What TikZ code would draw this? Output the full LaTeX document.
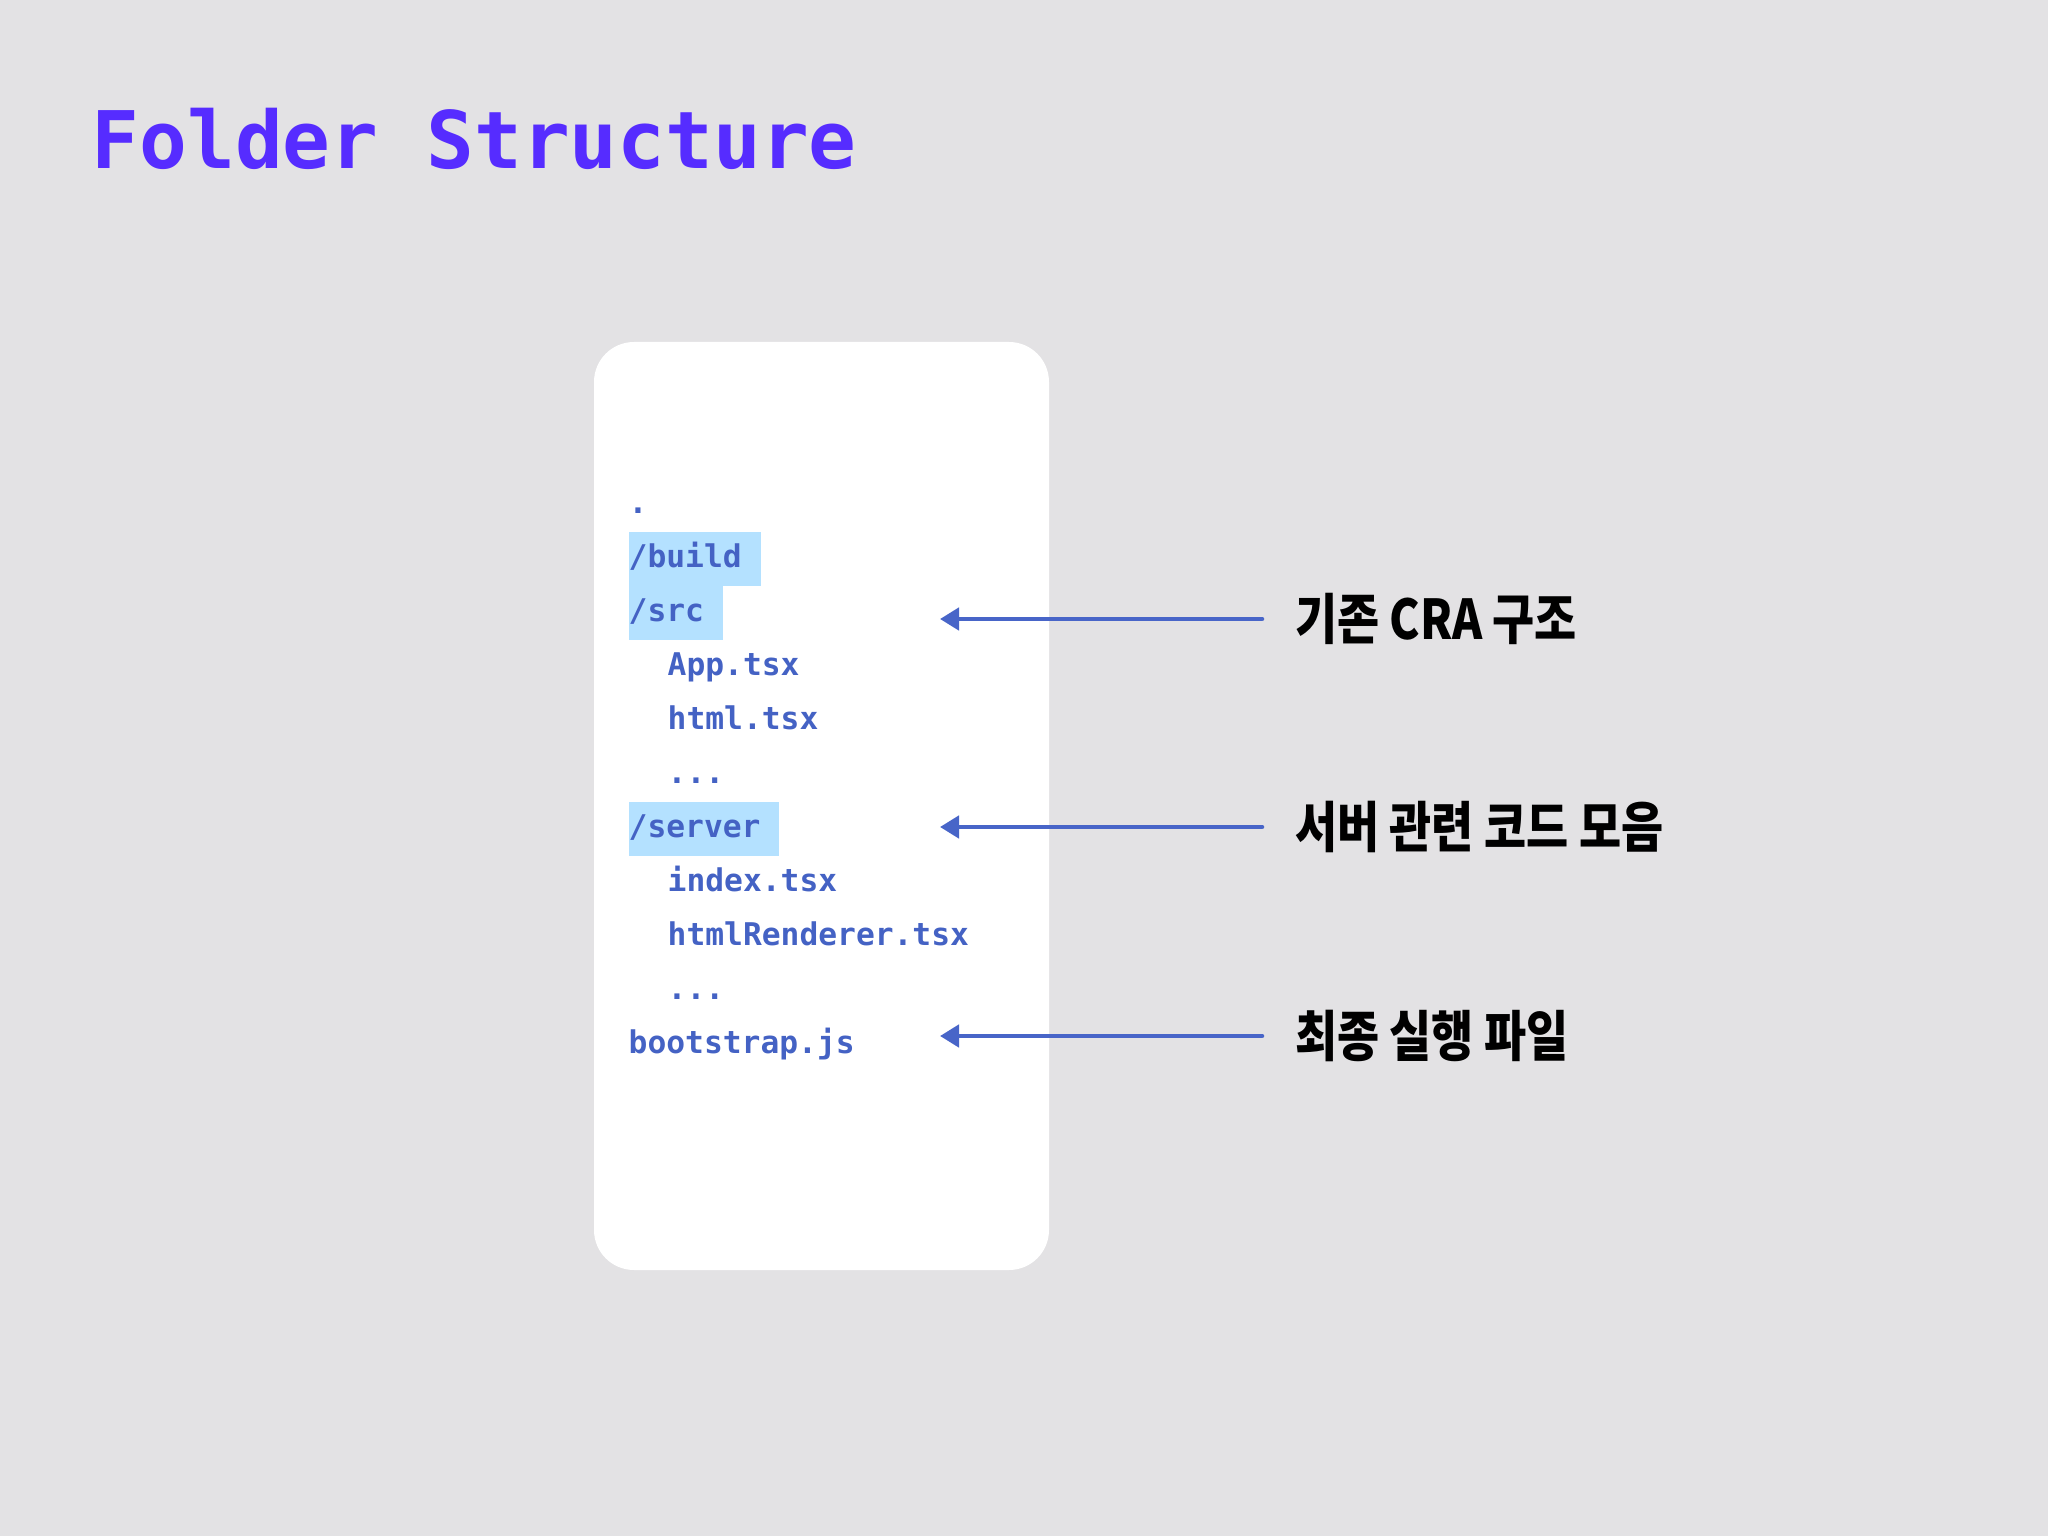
\documentclass[tikz,border=0pt]{standalone}
\usepackage{fontspec}
\setmonofont{DejaVu Sans Mono}
\newfontfamily\kofont[FakeStretch=0.835]{Noto Sans CJK KR}
\usetikzlibrary{arrows.meta}

\definecolor{slidebg}{RGB}{227,226,228}
\definecolor{titleviolet}{RGB}{86,44,255}
\definecolor{codeblue}{RGB}{68,98,196}
\definecolor{hlblue}{RGB}{180,225,255}
\definecolor{arrowblue}{RGB}{72,101,200}

\begin{document}
\begin{tikzpicture}[line cap=round,line join=round,
    title/.style={font=\ttfamily\bfseries\fontsize{22.6}{26}\selectfont,
      text=titleviolet,inner sep=0pt},
    code/.style={font=\ttfamily\bfseries\fontsize{8.9}{10}\selectfont,
      text=codeblue,anchor=west,inner xsep=0pt,inner ysep=0pt,
      minimum height=.54cm,text height=.75em,text depth=.25em},
    hl/.style={code,fill=hlblue},
    note/.style={font=\kofont\bfseries\fontsize{15.6}{19}\selectfont,
      anchor=west,inner sep=0pt,outer xsep=.33cm},
    ptr/.style={-{Triangle[length=.19cm,width=.22cm]},line width=1.3pt,
      draw=arrowblue}]
    % Slide and card.
    \useasboundingbox (0,0) rectangle (20.48,-15.36);
    \fill[slidebg] (0,0) rectangle (20.48,-15.36);
    \fill[white,rounded corners=.4cm] (5.94,-3.42) rectangle (10.49,-12.70);
    \node[title,anchor=base west] (head) at (0.91,-1.69) {Folder Structure};

    % Tree listing.
    \node[code] (root) at (6.28,-5.05) {.};
    \node[hl] (build) at (6.28,-5.59) {/build\phantom{x}};
    \node[hl] (src) at (6.28,-6.13) {/src\phantom{x}};
    \node[code] (app) at (6.67,-6.67) {App.tsx};
    \node[code] (html) at (6.67,-7.21) {html.tsx};
    \node[code] (srcmore) at (6.67,-7.75) {...};
    \node[hl] (server) at (6.28,-8.29) {/server\phantom{x}};
    \node[code] (index) at (6.67,-8.83) {index.tsx};
    \node[code] (renderer) at (6.67,-9.37) {htmlRenderer.tsx};
    \node[code] (servermore) at (6.67,-9.91) {...};
    \node[code] (boot) at (6.28,-10.45) {bootstrap.js};

    % Notes with pointers.
    \node[note] (cra) at (12.62,-6.19) {기존 CRA 구조};
    \node[note] (srvnote) at (12.62,-8.27) {서버 관련 코드 모음};
    \node[note] (final) at (12.62,-10.36) {최종 실행 파일};
    \coordinate (craTip) at (9.40,-6.19);
    \coordinate (srvTip) at (9.40,-8.27);
    \coordinate (finalTip) at (9.40,-10.36);
    \draw[ptr] (cra) -- (craTip);
    \draw[ptr] (srvnote) -- (srvTip);
    \draw[ptr] (final) -- (finalTip);
\end{tikzpicture}
\end{document}
